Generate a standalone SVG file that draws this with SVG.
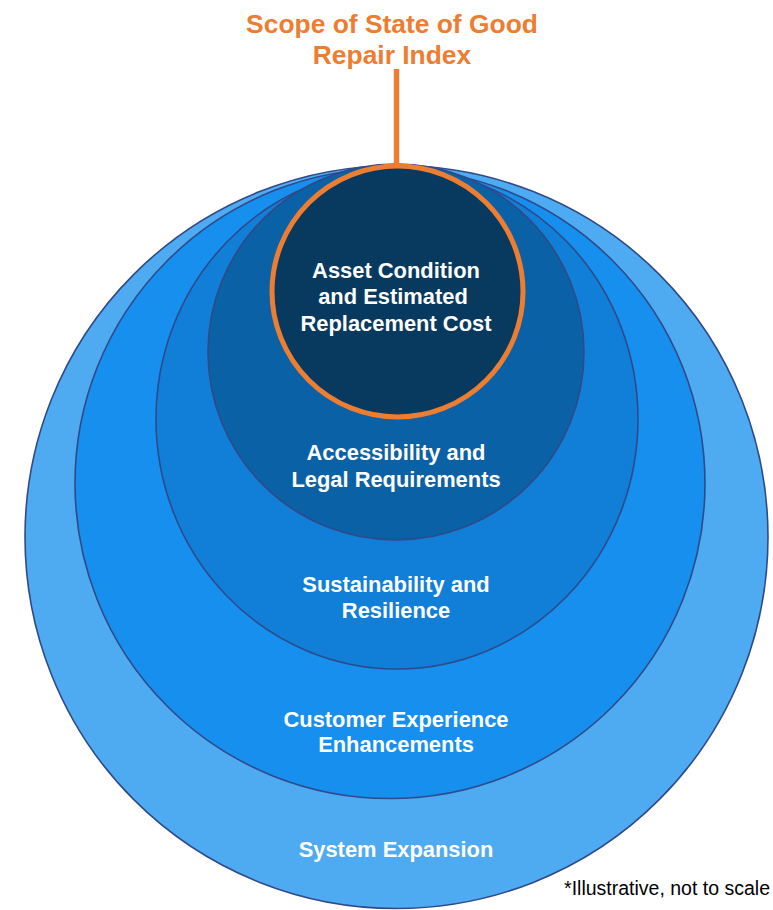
<svg xmlns="http://www.w3.org/2000/svg" width="773" height="910" viewBox="0 0 773 910">
<style>
.ring{stroke:#2F4A8A;stroke-width:1.6}
.lbl{font-family:"Liberation Sans",Arial,sans-serif;font-weight:bold;font-size:21.9px;fill:#FFFFFF;text-anchor:middle}
.title{font-family:"Liberation Sans",Arial,sans-serif;font-weight:bold;font-size:26.4px;fill:#ED7D31;text-anchor:middle}
.note{font-family:"Liberation Sans",Arial,sans-serif;font-size:19.5px;fill:#000000;text-anchor:end}
</style>
<rect width="773" height="910" fill="#FFFFFF"/>
<g id="system-expansion">
<circle class="ring" cx="396.5" cy="537" r="371.5" fill="#4FABF1"/>
<text class="lbl" x="396" y="857">System Expansion</text>
</g>
<g id="customer-experience">
<circle class="ring" cx="390" cy="483.5" r="315" fill="#168FEE"/>
<text class="lbl" x="396" y="727">Customer Experience</text>
<text class="lbl" x="396" y="752">Enhancements</text>
</g>
<g id="sustainability">
<ellipse class="ring" cx="397" cy="419" rx="241" ry="250" fill="#117ED7"/>
<text class="lbl" x="396" y="592">Sustainability and</text>
<text class="lbl" x="396" y="618">Resilience</text>
</g>
<g id="accessibility">
<circle class="ring" cx="396" cy="352" r="188" fill="#0B61A5"/>
<text class="lbl" x="396" y="460">Accessibility and</text>
<text class="lbl" x="396" y="487">Legal Requirements</text>
</g>
<g id="connectors">
<line x1="396.5" y1="69" x2="396.5" y2="167" stroke="#ED7D31" stroke-width="5.5"/>
</g>
<g id="asset-condition">
<circle cx="397.5" cy="291.5" r="125.5" fill="#083A60" stroke="#ED7D31" stroke-width="5"/>
<text class="lbl" x="396" y="278">Asset Condition</text>
<text class="lbl" x="393" y="304">and Estimated</text>
<text class="lbl" x="396" y="331">Replacement Cost</text>
</g>
<g id="title">
<text class="title" x="392" y="33">Scope of State of Good</text>
<text class="title" x="392" y="64">Repair Index</text>
</g>
<text class="note" x="770" y="895">*Illustrative, not to scale</text>
</svg>
